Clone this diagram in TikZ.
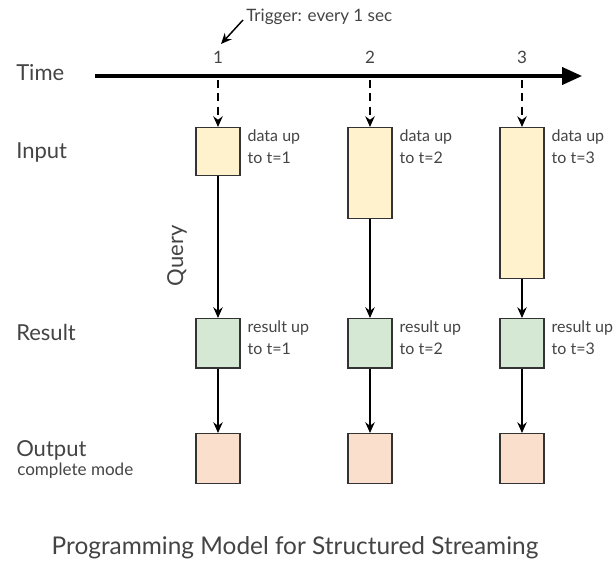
\documentclass[tikz,border=0pt]{standalone}
\usepackage{fontspec}
\setmainfont{Lato}
\usetikzlibrary{arrows.meta}

\definecolor{txtgray}{HTML}{444444}
\definecolor{inputfill}{HTML}{FFF2CC}
\definecolor{resultfill}{HTML}{D5E8D4}
\definecolor{outputfill}{HTML}{F9DFCC}

\tikzset{
  box/.style={draw=black!80,line width=1.1pt,anchor=north,minimum width=33pt,inner sep=0pt},
  side/.style={text=txtgray,font=\fontsize{16.5}{19}\selectfont,anchor=west,inner sep=0pt},
  note/.style={text=txtgray,font=\fontsize{12}{16.5}\selectfont,align=left,anchor=north west,inner sep=0pt},
  flow/.style={-{Stealth[length=8pt,width=7pt]},line width=1.3pt},
  tickarrow/.style={flow,dash pattern=on 6pt off 4pt}
}

\begin{document}
\begin{tikzpicture}[x=0.75pt,y=-0.75pt]
        \useasboundingbox (0,0) rectangle (615,561);

        % time axis
        \coordinate (t0) at (95,76);
        \coordinate (t1) at (582,76);
        \draw[line width=2.3pt,-{Triangle[length=15pt,width=13pt]}] (t0) -- (t1);

        \node[side] (time)   at (16,73)  {Time};
        \node[side] (input)  at (16,153) {Input};
        \node[side] (result) at (16,332) {Result};
        \node[side] (output) at (16,450) {Output};
        \node[text=txtgray,font=\fontsize{12.8}{14}\selectfont,anchor=west,inner sep=0pt] (mode) at (17,471) {complete mode};

        \begin{scope}[every node/.style={text=txtgray,font=\fontsize{12.8}{15}\selectfont,inner sep=0pt}]
          \node (1) at (218,57) {1};
          \node (2) at (370,57) {2};
          \node (3) at (522,57) {3};
          \node[anchor=west] (trigger) at (246,17) {Trigger: every 1 sec};
        \end{scope}
        \coordinate (trigtail) at (243,20);
        \coordinate (trighead) at (221,44);
        \draw[flow,line width=1.1pt] (trigtail) -- (trighead);

        % boxes
        \begin{scope}[every node/.style={box}]
          \node[fill=inputfill,minimum height=36pt]    (in1) at (218,127) {};
          \node[fill=inputfill,minimum height=68pt]    (in2) at (370,127) {};
          \node[fill=inputfill,minimum height=113pt]   (in3) at (522,127) {};
          \node[fill=resultfill,minimum height=37pt]   (res1) at (218,318) {};
          \node[fill=resultfill,minimum height=37pt]   (res2) at (370,318) {};
          \node[fill=resultfill,minimum height=37pt]   (res3) at (522,318) {};
          \node[fill=outputfill,minimum height=37.5pt] (out1) at (218,433) {};
          \node[fill=outputfill,minimum height=37.5pt] (out2) at (370,433) {};
          \node[fill=outputfill,minimum height=37.5pt] (out3) at (522,433) {};
        \end{scope}

        \coordinate (tick1) at (218,80);
        \coordinate (tick2) at (370,80);
        \coordinate (tick3) at (522,80);

        \begin{scope}[every node/.style={note}]
          \node (d1) at ([xshift=5pt,yshift=-2pt]in1.north east) {data up\\to t=1};
          \node (d2) at ([xshift=5pt,yshift=-2pt]in2.north east) {data up\\to t=2};
          \node (d3) at ([xshift=5pt,yshift=-2pt]in3.north east) {data up\\to t=3};
          \node (r1) at ([xshift=5pt,yshift=-2pt]res1.north east) {result up\\to t=1};
          \node (r2) at ([xshift=5pt,yshift=-2pt]res2.north east) {result up\\to t=2};
          \node (r3) at ([xshift=5pt,yshift=-2pt]res3.north east) {result up\\to t=3};
        \end{scope}

        \begin{scope}[every edge/.style={draw,flow}]
          \path (tick1) edge[tickarrow] (in1);
          \path (tick2) edge[tickarrow] (in2);
          \path (tick3) edge[tickarrow] (in3);
          \path (in1)  edge (res1);
          \path (in2)  edge (res2);
          \path (in3)  edge (res3);
          \path (res1) edge (out1);
          \path (res2) edge (out2);
          \path (res3) edge (out3);
        \end{scope}

        \node[text=txtgray,font=\fontsize{16.5}{19}\selectfont,rotate=90,inner sep=0pt] (query) at (177,256) {Query};

        \node[text=txtgray,font=\fontsize{18.3}{22}\selectfont,inner sep=0pt] (title) at (295,548) {Programming Model for Structured Streaming};

      \end{tikzpicture}
\end{document}
